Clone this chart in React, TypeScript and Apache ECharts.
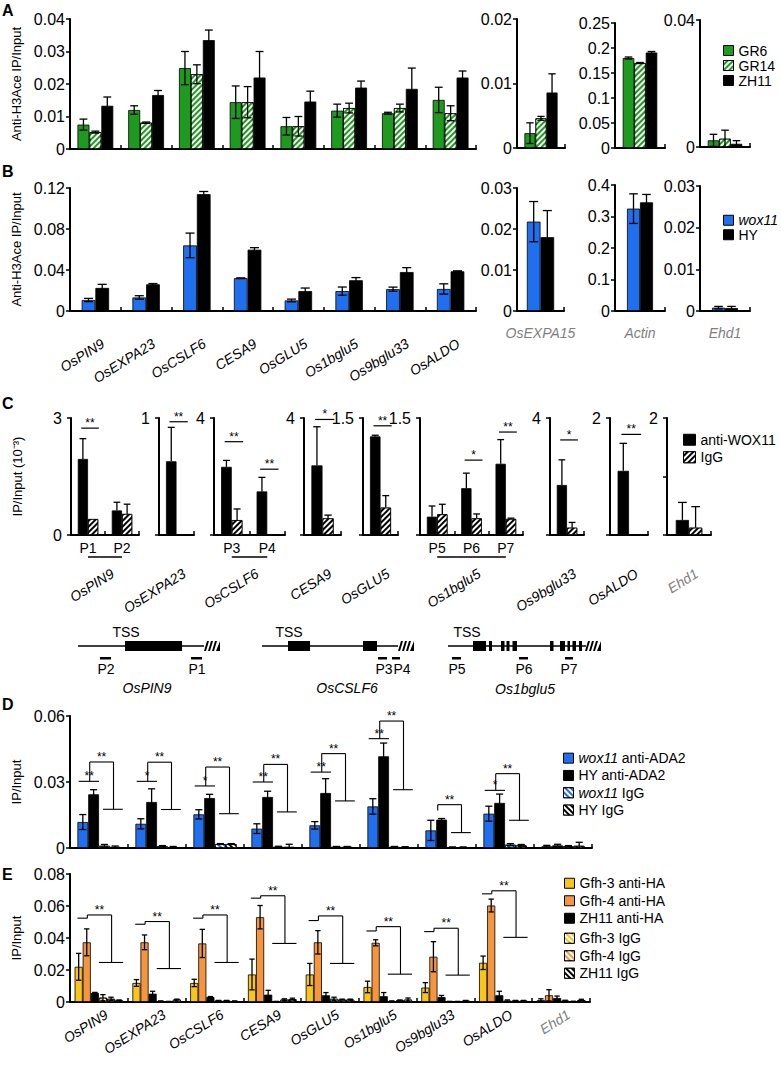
import React, { useEffect, useRef } from "react";
import * as echarts from "echarts";

const FONT = "'Liberation Sans', Arial, Helvetica, sans-serif";
const GREEN = "#1e9a1e";
const BLUE = "#1f6fee";
const GOLD = "#f9c617";
const ORANGE = "#f5963f";
const GRAY = "#7f7f7f";
const FWD = -Math.PI / 4;
const BACK = Math.PI / 4;

// ---------------- DATA ----------------
const genes = ["OsPIN9", "OsEXPA23", "OsCSLF6", "CESA9", "OsGLU5", "Os1bglu5", "Os9bglu33", "OsALDO"];
const genesDE = ["OsPIN9", "OsEXPA23", "OsCSLF6", "CESA9", "OsGLU5", "Os1bglu5", "Os9bglu33", "OsALDO", "Ehd1"];
const sideGenes = ["OsEXPA15", "Actin", "Ehd1"];

// Panel A (anti-H3Ace, GR6 / GR14 / ZH11)
const aGR6 = [0.0075, 0.012, 0.0249, 0.0144, 0.007, 0.0118, 0.011, 0.0151];
const aGR6Err = [0.0017, 0.0013, 0.0051, 0.005, 0.0027, 0.002, 0.0003, 0.0039];
const aGR14 = [0.0052, 0.0081, 0.023, 0.0144, 0.007, 0.0126, 0.0126, 0.011];
const aGR14Err = [0.0003, 0.0002, 0.0029, 0.0048, 0.003, 0.0015, 0.0012, 0.0023];
const aZH11 = [0.0133, 0.0166, 0.0335, 0.022, 0.0146, 0.0189, 0.0185, 0.022];
const aZH11Err = [0.0027, 0.0014, 0.0031, 0.008, 0.0032, 0.002, 0.0064, 0.002];
const aGR6Side = [0.0023, 0.18, 0.0021];
const aGR6SideErr = [0.0016, 0.002, 0.0019];
const aGR14Side = [0.0046, 0.17, 0.0026];
const aGR14SideErr = [0.0003, 0.001, 0.0027];
const aZH11Side = [0.0086, 0.191, 0.001];
const aZH11SideErr = [0.0029, 0.002, 0.001];
const aSideMax = [0.02, 0.25, 0.04];
const aSideStep = [0.01, 0.05, 0.04];

// Panel B (anti-H3Ace, wox11 / HY)
const bWox = [0.0107, 0.0132, 0.064, 0.032, 0.0103, 0.0194, 0.0213, 0.0215];
const bWoxErr = [0.0016, 0.0017, 0.012, 0.0003, 0.0013, 0.004, 0.002, 0.005];
const bHY = [0.0225, 0.026, 0.114, 0.0598, 0.0194, 0.03, 0.038, 0.0387];
const bHYErr = [0.0035, 0.0008, 0.0026, 0.002, 0.003, 0.0026, 0.0043, 0.0005];
const bWoxSide = [0.0218, 0.325, 0.0008];
const bWoxSideErr = [0.0049, 0.047, 0.0003];
const bHYSide = [0.018, 0.345, 0.0007];
const bHYSideErr = [0.0065, 0.025, 0.0004];
const bSideMax = [0.03, 0.4, 0.03];
const bSideStep = [0.01, 0.1, 0.01];

// Panel C (IP/Input x10^-3, anti-WOX11 / IgG)
const cGenes = ["OsPIN9", "OsEXPA23", "OsCSLF6", "CESA9", "OsGLU5", "Os1bglu5", "Os9bglu33", "OsALDO", "Ehd1"];
const cProbes = [["P1", "P2"], ["OsEXPA23"], ["P3", "P4"], ["CESA9"], ["OsGLU5"], ["P5", "P6", "P7"], ["Os9bglu33"], ["OsALDO"], ["Ehd1"]];
const cAnti = [[1.95, 0.63], [0.63], [2.33, 1.49], [2.38], [1.264], [0.235, 0.6, 0.913], [1.71], [1.097], [0.257]];
const cAntiErr = [[0.52, 0.21], [0.29], [0.22, 0.48], [1.32], [0.015], [0.137, 0.193, 0.31], [0.86], [0.47], [0.3]];
const cIgG = [[0.41, 0.54], [0], [0.51, 0], [0.57], [0.351], [0.266, 0.214, 0.206], [0.25], [0], [0.125]];
const cIgGErr = [[0, 0.25], [0], [0.38, 0], [0.11], [0.154], [0.128, 0.056, 0.01], [0.18], [0], [0.36]];
const cMax = [3, 1, 4, 4, 1.5, 1.5, 4, 2, 2];
const cStep = [3, 1, 4, 4, 1.5, 1.5, 4, 2, 1];
const cSigY = [[2.74, null], [0.968], [3.19, 2.25], [3.95], [1.4], [null, 0.96, 1.32], [3.25], [1.72], [null]];
const cSigStars = [["**", ""], ["**"], ["**", "**"], ["*"], ["**"], ["", "*", "**"], ["*"], ["**"], [""]];

// Panel D (anti-ADA2)
const dWoxAnti = [0.0118, 0.011, 0.0153, 0.0088, 0.0103, 0.0189, 0.008, 0.0156, 0.0008];
const dWoxAntiErr = [0.0034, 0.0023, 0.0021, 0.0022, 0.0017, 0.0035, 0.0046, 0.0034, 0.0004];
const dHYAnti = [0.0244, 0.0209, 0.0227, 0.0232, 0.025, 0.0417, 0.0129, 0.0205, 0.0012];
const dHYAntiErr = [0.0021, 0.006, 0.0017, 0.0026, 0.0065, 0.006, 0.0005, 0.004, 0.0005];
const dWoxIgG = [0.001, 0.0008, 0.0018, 0.0005, 0.0005, 0.0005, 0.0003, 0.0015, 0.0008];
const dWoxIgGErr = [0.0006, 0.0003, 0.0002, 0.0003, 0.0002, 0.0002, 0.0002, 0.0005, 0.0003];
const dHYIgG = [0.0005, 0.0004, 0.0018, 0.0005, 0.0005, 0.0004, 0.0003, 0.0012, 0.001];
const dHYIgGErr = [0.0004, 0.0003, 0.0002, 0.0012, 0.0002, 0.0002, 0.0002, 0.0004, 0.0016];
const dLowY = [0.0303, 0.0303, 0.0282, 0.03, 0.0345, 0.0497, 0.0171, 0.0262];
const dTopY = [0.0391, 0.039, 0.0368, 0.038, 0.0429, 0.0577, 0.0197, 0.0338];
const dRightY = [0.0176, 0.0175, 0.0156, 0.0164, 0.0214, 0.0265, 0.007, 0.0126];
const dLowStars = ["**", "*", "*", "**", "**", "**", "", "*"];
const dTopStars = ["**", "**", "**", "**", "**", "**", "**", "**"];

// Panel E (anti-HA)
const eG3 = [0.022, 0.0119, 0.0119, 0.0172, 0.0172, 0.0094, 0.009, 0.0245, 0.0012];
const eG3Err = [0.0084, 0.0021, 0.0023, 0.0096, 0.0069, 0.0036, 0.0031, 0.0042, 0.0008];
const eG4 = [0.0373, 0.0373, 0.0366, 0.053, 0.0373, 0.037, 0.0283, 0.0603, 0.0042];
const eG4Err = [0.0084, 0.0046, 0.0088, 0.0073, 0.0073, 0.0019, 0.0094, 0.004, 0.0035];
const eZH = [0.0057, 0.0052, 0.0031, 0.0046, 0.0042, 0.0036, 0.0031, 0.0042, 0.0025];
const eZHErr = [0.0003, 0.0015, 0.0003, 0.0027, 0.0017, 0.0023, 0.001, 0.0025, 0.0012];
const eG3IgG = [0.0027, 0.0005, 0.0008, 0.0002, 0.002, 0.0005, 0.0002, 0.0008, 0.0008];
const eG3IgGErr = [0.0019, 0.0002, 0.0002, 0.0002, 0.001, 0.0002, 0.0002, 0.0005, 0.0003];
const eG4IgG = [0.002, 0.0002, 0.0008, 0.0015, 0.0015, 0.001, 0.0002, 0.0008, 0.0003];
const eG4IgGErr = [0.001, 0.0002, 0.0002, 0.0005, 0.0003, 0.0003, 0.0002, 0.0002, 0.0002];
const eZHIgG = [0.001, 0.0015, 0.0005, 0.0018, 0.0015, 0.0015, 0.0008, 0.0008, 0.0012];
const eZHIgGErr = [0.0003, 0.0003, 0.0002, 0.0006, 0.0003, 0.001, 0.0002, 0.0002, 0.0005];
const eLeftY = [0.0524, 0.0486, 0.0524, 0.0649, 0.0509, 0.0444, 0.044, 0.0676];
const eTopY = [0.0544, 0.0503, 0.0544, 0.0664, 0.0538, 0.0471, 0.0461, 0.0695];
const eRightY = [0.0247, 0.0209, 0.0247, 0.0366, 0.0241, 0.0174, 0.0168, 0.0404];
const eStars = ["**", "**", "**", "**", "**", "**", "**", "**"];

// ---------------- HELPERS ----------------
const hatch = (color: string, rotation: number) => ({
  symbol: "rect",
  symbolSize: 1,
  color,
  dashArrayX: [1, 0],
  dashArrayY: [2, 2],
  rotation,
});

const lineEl = (x1: number, y1: number, x2: number, y2: number, w = 1.1) => ({
  type: "line",
  shape: { x1, y1, x2, y2 },
  style: { stroke: "#000", lineWidth: w },
});

const starEl = (x: number, y: number, s: string) => ({
  type: "text",
  x,
  y,
  style: {
    legacy: false,
    text: s,
    fill: "#000",
    stroke: "none",
    lineWidth: 0,
    font: `12px ${FONT}`,
    align: "center",
    verticalAlign: "bottom",
  },
});

function errSeries(xi: number, yi: number, vals: number[], errs: number[], k: number, n: number, pct: number, mode: string) {
  return {
    type: "custom",
    xAxisIndex: xi,
    yAxisIndex: yi,
    silent: true,
    z: 4,
    encode: { x: 0, y: 1 },
    data: vals.map((v, i) => [i, v, errs[i]]),
    renderItem: (params: any, api: any) => {
      const i = api.value(0);
      const v = api.value(1);
      const e = api.value(2);
      if (!(e > 0)) return null;
      const band = api.size([1, 0])[0];
      const bw = band * pct;
      const base = api.coord([i, v]);
      const x = base[0] + (k - (n - 1) / 2) * bw;
      const yt = api.coord([i, v + e])[1];
      const yb = mode === "both" ? api.coord([i, Math.max(0, v - e)])[1] : base[1];
      const cap = Math.max(2.5, bw * 0.33);
      const ch: any[] = [lineEl(x, yt, x, yb, 1.3), lineEl(x - cap, yt, x + cap, yt, 1.3)];
      if (mode === "both" && v - e > 0) ch.push(lineEl(x - cap, yb, x + cap, yb, 1.3));
      return { type: "group", children: ch };
    },
  };
}

function gText(x: number, y: number, text: string, o: any = {}) {
  return {
    type: "text",
    x,
    y,
    style: {
      text,
      fill: o.fill || "#000",
      font: `${o.style || "normal"} ${o.weight || "normal"} ${o.size || 14}px ${FONT}`,
      align: o.align || "center",
      verticalAlign: o.valign || "middle",
    },
  };
}
const gLine = (x1: number, y1: number, x2: number, y2: number, w = 1.5) => ({
  type: "line",
  shape: { x1, y1, x2, y2 },
  style: { stroke: "#000", lineWidth: w },
});
const gRect = (x: number, y: number, width: number, height: number) => ({
  type: "rect",
  shape: { x, y, width, height },
  style: { fill: "#000" },
});
function gSlashes(x0: number, yTop: number, yBot: number) {
  const els: any[] = [];
  for (let k = 0; k < 3; k++) {
    const x = x0 + k * 4;
    els.push({ type: "polygon", shape: { points: [[x, yBot], [x + 2, yBot], [x + 5, yTop], [x + 3, yTop]] }, style: { fill: "#000" } });
  }
  els.push({ type: "polygon", shape: { points: [[x0 + 12, yBot], [x0 + 16, yBot], [x0 + 16, yTop]] }, style: { fill: "#000" } });
  return els;
}

function buildOption(): any {
  const grid: any[] = [];
  const xAxis: any[] = [];
  const yAxis: any[] = [];
  const series: any[] = [];
  const lineStyle = { color: "#000", width: 2 };
  const tickStyle = { color: "#000", width: 1.5 };

  const addGrid = (left: number, top: number, width: number, height: number) => {
    grid.push({ left, top, width, height, containLabel: false });
    return grid.length - 1;
  };
  const addX = (gridIndex: number, data: string[], axisLabel: any = { show: false }, extra: any = {}) => {
    xAxis.push({
      type: "category",
      gridIndex,
      position: "bottom",
      data,
      boundaryGap: true,
      axisLine: { show: true, onZero: false, lineStyle },
      axisTick: { show: true, inside: true, length: 4, lineStyle: tickStyle },
      axisLabel: { fontFamily: FONT, color: "#000", interval: 0, ...axisLabel },
      splitLine: { show: false },
      ...extra,
    });
    return xAxis.length - 1;
  };
  const addY = (gridIndex: number, min: number, max: number, interval: number, axisLabel: any = {}, extra: any = {}) => {
    yAxis.push({
      type: "value",
      gridIndex,
      position: "left",
      min,
      max,
      interval,
      axisLine: { show: true, lineStyle },
      axisTick: { show: true, length: 4, lineStyle: tickStyle },
      axisLabel: { fontFamily: FONT, fontSize: 16, color: "#000", margin: 5, ...axisLabel },
      splitLine: { show: false },
      ...extra,
    });
    return yAxis.length - 1;
  };
  const yName = (name: string, gap: number) => ({
    name,
    nameLocation: "middle",
    nameGap: gap,
    nameTextStyle: { fontFamily: FONT, fontSize: 13, color: "#000" },
  });
  const rotLabel = (margin: number, extra: any = {}) => ({
    show: true,
    rotate: 32,
    fontStyle: "italic",
    fontSize: 14,
    margin,
    padding: [0, -9, 0, 0],
    ...extra,
  });
  const addBars = (xi: number, yi: number, list: any[], pct: number, mode: string) => {
    const n = list.length;
    list.forEach((s) =>
      series.push({
        type: "bar",
        name: s.name,
        xAxisIndex: xi,
        yAxisIndex: yi,
        data: s.vals,
        barWidth: `${pct * 100}%`,
        barGap: "0%",
        silent: true,
        z: 2,
        itemStyle: s.decal
          ? { color: s.color, borderColor: "#000", borderWidth: 0.8, decal: s.decal }
          : { color: s.color, borderColor: "#000", borderWidth: 0.8 },
      })
    );
    list.forEach((s, k) => series.push(errSeries(xi, yi, s.vals, s.errs, k, n, pct, mode)));
  };

  // ---------- Panel A ----------
  const gA = addGrid(70, 19, 406, 130);
  const xA = addX(gA, genes);
  const yA = addY(gA, 0, 0.04, 0.01, {}, yName("Anti-H3Ace IP/Input", 46));
  addBars(
    xA,
    yA,
    [
      { name: "GR6", vals: aGR6, errs: aGR6Err, color: GREEN },
      { name: "GR14", vals: aGR14, errs: aGR14Err, color: GREEN, decal: hatch("#ffffff", FWD) },
      { name: "ZH11", vals: aZH11, errs: aZH11Err, color: "#000" },
    ],
    0.235,
    "both"
  );
  const aSideBox = [
    [517, 19, 48, 129],
    [615, 23, 50, 125],
    [700, 20, 50, 127],
  ];
  sideGenes.forEach((g, j) => {
    const b = aSideBox[j];
    const gi = addGrid(b[0], b[1], b[2], b[3]);
    const xi = addX(gi, [g]);
    const yi = addY(gi, 0, aSideMax[j], aSideStep[j]);
    addBars(
      xi,
      yi,
      [
        { name: "GR6", vals: [aGR6Side[j]], errs: [aGR6SideErr[j]], color: GREEN },
        { name: "GR14", vals: [aGR14Side[j]], errs: [aGR14SideErr[j]], color: GREEN, decal: hatch("#ffffff", FWD) },
        { name: "ZH11", vals: [aZH11Side[j]], errs: [aZH11SideErr[j]], color: "#000" },
      ],
      0.23,
      "both"
    );
  });

  // ---------- Panel B ----------
  const gB = addGrid(70, 188, 406, 123);
  const xB = addX(gB, genes, rotLabel(36));
  const yB = addY(gB, 0, 0.12, 0.04, {}, yName("Anti-H3Ace IP/Input", 46));
  addBars(
    xB,
    yB,
    [
      { name: "wox11", vals: bWox, errs: bWoxErr, color: BLUE },
      { name: "HY", vals: bHY, errs: bHYErr, color: "#000" },
    ],
    0.27,
    "both"
  );
  const bSideBox = [
    [517, 188, 47, 123],
    [615, 185, 50, 126],
    [700, 186, 50, 125],
  ];
  sideGenes.forEach((g, j) => {
    const b = bSideBox[j];
    const gi = addGrid(b[0], b[1], b[2], b[3]);
    const xi = addX(gi, [g], { show: true, fontStyle: "italic", fontSize: 14, margin: 15, color: GRAY });
    const yi = addY(gi, 0, bSideMax[j], bSideStep[j]);
    addBars(
      xi,
      yi,
      [
        { name: "wox11", vals: [bWoxSide[j]], errs: [bWoxSideErr[j]], color: BLUE },
        { name: "HY", vals: [bHYSide[j]], errs: [bHYSideErr[j]], color: "#000" },
      ],
      j === 0 ? 0.29 : 0.26,
      "both"
    );
  });

  // ---------- Panel C ----------
  const cLeft = [71, 159, 214, 304, 363, 420, 550, 610, 667];
  const cWidth = [68, 35, 71, 37, 35, 103, 34, 38, 44];
  cGenes.forEach((gene, k) => {
    const gi = addGrid(cLeft[k], 418, cWidth[k], 117);
    const multi = cProbes[k].length > 1;
    const xi = addX(gi, cProbes[k], multi ? { show: true, fontSize: 14, margin: 6 } : { show: false });
    addX(
      gi,
      [gene],
      rotLabel(42, { color: gene === "Ehd1" ? GRAY : "#000" }),
      { axisLine: { show: false }, axisTick: { show: false } }
    );
    const mx = cMax[k];
    const yi = addY(
      gi,
      0,
      mx,
      cStep[k],
      { margin: 9, formatter: (v: number) => (Math.abs(v - mx) < 1e-9 ? String(mx) : k === 0 && v === 0 ? "0" : "") },
      k === 0 ? yName("IP/Input (10\u207B\u00B3)", 47) : {}
    );
    addBars(
      xi,
      yi,
      [
        { name: "anti-WOX11", vals: cAnti[k], errs: cAntiErr[k], color: "#000" },
        { name: "IgG", vals: cIgG[k], errs: cIgGErr[k], color: "#000", decal: hatch("#ffffff", FWD) },
      ],
      0.3,
      "up"
    );
    series.push({
      type: "custom",
      xAxisIndex: xi,
      yAxisIndex: yi,
      silent: true,
      z: 6,
      encode: { x: 0, y: 1 },
      data: cSigY[k].map((y, i) => [i, y == null ? 0 : y]),
      renderItem: (params: any, api: any) => {
        const s = cSigStars[k][params.dataIndex];
        if (!s) return null;
        const i = api.value(0);
        const band = api.size([1, 0])[0];
        const p = api.coord([i, api.value(1)]);
        const x1 = p[0] - 0.2 * band;
        const x2 = p[0] + 0.32 * band;
        return { type: "group", children: [lineEl(x1, p[1], x2, p[1], 1.2), starEl((x1 + x2) / 2, p[1] + 1, s)] };
      },
    });
    if (multi) {
      const n = cProbes[k].length;
      series.push({
        type: "custom",
        xAxisIndex: xi,
        yAxisIndex: yi,
        silent: true,
        encode: { x: 0, y: 1 },
        data: [[0, 0]],
        renderItem: (params: any, api: any) => {
          const p0 = api.coord([0, 0]);
          const p1 = api.coord([n - 1, 0]);
          return lineEl(p0[0], p0[1] + 22, p1[0], p0[1] + 22, 1.6);
        },
      });
    }
  });

  // ---------- Panel D ----------
  const gD = addGrid(70, 716, 522, 132);
  const xD = addX(gD, genesDE);
  const yD = addY(gD, 0, 0.06, 0.03, {}, yName("IP/Input", 46));
  addBars(
    xD,
    yD,
    [
      { name: "wox11 anti-ADA2", vals: dWoxAnti, errs: dWoxAntiErr, color: BLUE },
      { name: "HY anti-ADA2", vals: dHYAnti, errs: dHYAntiErr, color: "#000" },
      { name: "wox11 IgG", vals: dWoxIgG, errs: dWoxIgGErr, color: BLUE, decal: hatch("#ffffff", BACK) },
      { name: "HY IgG", vals: dHYIgG, errs: dHYIgGErr, color: "#000", decal: hatch("#ffffff", BACK) },
    ],
    0.186,
    "both"
  );
  series.push({
    type: "custom",
    xAxisIndex: xD,
    yAxisIndex: yD,
    silent: true,
    z: 6,
    encode: { x: 0, y: 1 },
    data: dLowY.map((v, i) => [i, v, dTopY[i], dRightY[i]]),
    renderItem: (params: any, api: any) => {
      const i = api.value(0);
      const band = api.size([1, 0])[0];
      const cx = api.coord([i, 0])[0];
      const X = (f: number) => cx + f * band;
      const yl = api.coord([i, api.value(1)])[1];
      const yt = api.coord([i, api.value(2)])[1];
      const yr = api.coord([i, api.value(3)])[1];
      const ch: any[] = [];
      const low = dLowStars[params.dataIndex];
      if (low) {
        ch.push(lineEl(X(-0.35), yl, X(0), yl));
        ch.push(starEl(X(-0.17), yl + 1, low));
      }
      ch.push(lineEl(X(-0.16), yl, X(-0.16), yt));
      ch.push(lineEl(X(-0.16), yt, X(0.25), yt));
      ch.push(lineEl(X(0.25), yt, X(0.25), yr));
      ch.push(lineEl(X(0.07), yr, X(0.41), yr));
      ch.push(starEl(X(0.045), yt + 1, dTopStars[params.dataIndex]));
      return { type: "group", children: ch };
    },
  });

  // ---------- Panel E ----------
  const gE = addGrid(70, 874, 520, 128);
  const xE = addX(gE, genesDE, rotLabel(16, { color: (v: string) => (v === "Ehd1" ? GRAY : "#000") }));
  const yE = addY(gE, 0, 0.08, 0.02, {}, yName("IP/Input", 46));
  addBars(
    xE,
    yE,
    [
      { name: "Gfh-3 anti-HA", vals: eG3, errs: eG3Err, color: GOLD },
      { name: "Gfh-4 anti-HA", vals: eG4, errs: eG4Err, color: ORANGE },
      { name: "ZH11 anti-HA", vals: eZH, errs: eZHErr, color: "#000" },
      { name: "Gfh-3 IgG", vals: eG3IgG, errs: eG3IgGErr, color: GOLD, decal: hatch("#ffffff", BACK) },
      { name: "Gfh-4 IgG", vals: eG4IgG, errs: eG4IgGErr, color: ORANGE, decal: hatch("#ffffff", BACK) },
      { name: "ZH11 IgG", vals: eZHIgG, errs: eZHIgGErr, color: "#000", decal: hatch("#ffffff", BACK) },
    ],
    0.14,
    "both"
  );
  series.push({
    type: "custom",
    xAxisIndex: xE,
    yAxisIndex: yE,
    silent: true,
    z: 6,
    encode: { x: 0, y: 1 },
    data: eLeftY.map((v, i) => [i, v, eTopY[i], eRightY[i]]),
    renderItem: (params: any, api: any) => {
      const i = api.value(0);
      const band = api.size([1, 0])[0];
      const cx = api.coord([i, 0])[0];
      const X = (f: number) => cx + f * band;
      const yl = api.coord([i, api.value(1)])[1];
      const yt = api.coord([i, api.value(2)])[1];
      const yr = api.coord([i, api.value(3)])[1];
      return {
        type: "group",
        children: [
          lineEl(X(-0.37), yl, X(-0.2), yl),
          lineEl(X(-0.2), yl, X(-0.2), yt),
          lineEl(X(-0.2), yt, X(0.22), yt),
          lineEl(X(0.22), yt, X(0.22), yr),
          lineEl(X(0.0), yr, X(0.42), yr),
          starEl(X(0.01), yt + 1, eStars[params.dataIndex]),
        ],
      };
    },
  });

  // ---------- Legends ----------
  const rich = (lh: number) => ({
    i: { fontStyle: "italic", fontFamily: FONT, fontSize: 14, color: "#000", lineHeight: lh },
    n: { fontFamily: FONT, fontSize: 14, color: "#000", lineHeight: lh },
  });
  const legendBase = (data: string[], left: number, top: number, lh: number, extra: any = {}) => ({
    data,
    left,
    top,
    orient: "vertical",
    icon: "rect",
    itemWidth: 10,
    itemHeight: 10,
    itemGap: 0,
    padding: 0,
    selectedMode: false,
    itemStyle: { borderColor: "#000", borderWidth: 1 },
    textStyle: { fontFamily: FONT, fontSize: 14, color: "#000", lineHeight: lh, rich: rich(lh) },
    formatter: (name: string) =>
      name.startsWith("wox11") ? `{i|wox11}{n|${name.slice(5)}}` : `{n|${name}}`,
    ...extra,
  });
  const legend = [
    legendBase(["GR6", "GR14", "ZH11"], 723, 43, 15),
    legendBase(["wox11", "HY"], 723, 213, 14.5),
    legendBase(["anti-WOX11", "IgG"], 683, 431, 17.5, { itemWidth: 12, itemHeight: 11 }),
    legendBase(["wox11 anti-ADA2", "HY anti-ADA2", "wox11 IgG", "HY IgG"], 563, 749.5, 17.3),
    legendBase(["Gfh-3 anti-HA", "Gfh-4 anti-HA", "ZH11 anti-HA"], 564, 874.5, 17.5),
    legendBase(["Gfh-3 IgG", "Gfh-4 IgG", "ZH11 IgG"], 564, 929.5, 17.5),
  ];

  // ---------- Graphic: panel letters & gene structures ----------
  const graphic: any[] = [
    gText(2, 2, "A", { weight: "bold", size: 16, align: "left", valign: "top" }),
    gText(2, 163, "B", { weight: "bold", size: 16, align: "left", valign: "top" }),
    gText(2, 395, "C", { weight: "bold", size: 16, align: "left", valign: "top" }),
    gText(2, 696, "D", { weight: "bold", size: 16, align: "left", valign: "top" }),
    gText(2, 866, "E", { weight: "bold", size: 16, align: "left", valign: "top" }),
    // OsPIN9
    gLine(78, 646, 204, 646),
    gRect(125, 641, 57, 10),
    ...gSlashes(204, 641, 651),
    gText(126, 632, "TSS"),
    gRect(100, 657, 11, 2.5),
    gRect(191, 657, 11, 2.5),
    gText(106, 669, "P2"),
    gText(197, 669, "P1"),
    gText(147, 688, "OsPIN9", { style: "italic" }),
    // OsCSLF6
    gLine(262, 646, 398, 646),
    gRect(288, 641, 22, 10),
    gRect(363, 641, 14, 10),
    ...gSlashes(398, 641, 651),
    gText(289, 632, "TSS"),
    gRect(378, 657, 9, 2.5),
    gRect(392, 657, 8, 2.5),
    gText(384, 669, "P3"),
    gText(402, 669, "P4"),
    gText(347, 688, "OsCSLF6", { style: "italic" }),
    // Os1bglu5
    gLine(448, 646, 586, 646),
    gRect(473, 641, 13, 10),
    gRect(489, 641, 3, 10),
    gRect(501, 641, 3.5, 10),
    gRect(506.5, 641, 3, 10),
    gRect(512.5, 641, 4.5, 10),
    gRect(550, 641, 3.5, 10),
    gRect(560, 641, 5, 10),
    gRect(567.5, 641, 2.5, 10),
    gRect(572.5, 641, 3.5, 10),
    gRect(579, 641, 3, 10),
    ...gSlashes(585, 641, 651),
    gText(467, 632, "TSS"),
    gRect(452, 657, 9, 2.5),
    gRect(519, 657, 9, 2.5),
    gRect(565, 657, 8, 2.5),
    gText(457, 669, "P5"),
    gText(524, 669, "P6"),
    gText(569, 669, "P7"),
    gText(525, 689, "Os1bglu5", { style: "italic" }),
  ];

  return {
    animation: false,
    backgroundColor: "#fff",
    textStyle: { fontFamily: FONT },
    grid,
    xAxis,
    yAxis,
    series,
    legend,
    graphic,
  };
}

export default function App() {
  const ref = useRef<HTMLDivElement>(null);
  useEffect(() => {
    const chart = echarts.init(ref.current as HTMLDivElement, null, { renderer: "svg" });
    chart.setOption(buildOption());
    return () => chart.dispose();
  }, []);
  return (
    <div
      ref={ref}
      style={{ position: "absolute", left: 0, top: 0, width: 781, height: 1065, background: "#fff" }}
    />
  );
}
